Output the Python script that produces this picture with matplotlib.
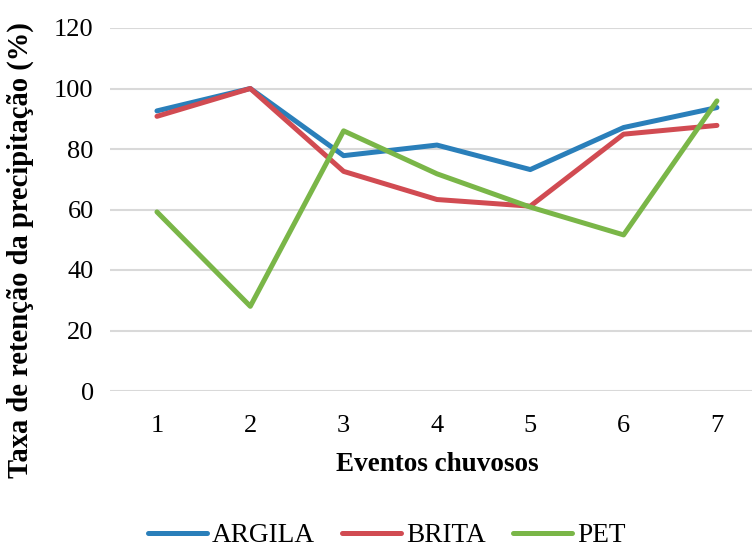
import matplotlib.pyplot as plt

# Data
eventos = [1, 2, 3, 4, 5, 6, 7]
argila = [92.6, 100.0, 77.8, 81.3, 73.2, 87.1, 93.7]
brita = [90.8, 100.0, 72.6, 63.3, 61.1, 84.9, 87.8]
pet = [59.2, 28.0, 86.0, 71.8, 60.8, 51.6, 95.9]
y_ticks = [0, 20, 40, 60, 80, 100, 120]

plt.rcParams['font.family'] = ['Liberation Serif', 'DejaVu Serif']

fig = plt.figure(figsize=(7.52, 5.48), dpi=100)
ax = fig.add_axes([110.3 / 752, 1 - 391 / 548, 653.3 / 752, 363 / 548])

ax.plot(eventos, argila, color='#2A7FBA', linewidth=3.6, label='ARGILA', solid_capstyle='round')
ax.plot(eventos, brita, color='#D14B52', linewidth=3.6, label='BRITA', solid_capstyle='round')
ax.plot(eventos, pet, color='#7AB648', linewidth=3.6, label='PET', solid_capstyle='round')

ax.set_xlim(0.5, 7.5)
ax.set_ylim(0, 120)
ax.set_xticks(eventos)
ax.set_yticks(y_ticks)
ax.tick_params(axis='both', length=0, labelsize=19, colors='black')
ax.tick_params(axis='y', pad=12)
ax.tick_params(axis='x', pad=17)

ax.grid(axis='y', color='#D9D9D9', linewidth=1.5)
ax.set_axisbelow(True)
for s in ax.spines.values():
    s.set_visible(False)

ax.set_xlabel('Eventos chuvosos', fontsize=19.5, fontweight='bold')
ax.set_ylabel('Taxa de retenção da precipitação (%)', fontsize=20.6, fontweight='bold')
ax.xaxis.set_label_coords(0.5, -0.203)
ax.xaxis.label.set_va('center')
ax.yaxis.set_label_coords(-0.137, 0.388)
ax.yaxis.label.set_va('center')

fig.legend(loc='center', bbox_to_anchor=(387 / 752, 0.022), ncol=3, frameon=False,
           fontsize=19.6, handlelength=2.15, handletextpad=0.2, columnspacing=1.0)

fig.savefig('out.png', dpi=100)
